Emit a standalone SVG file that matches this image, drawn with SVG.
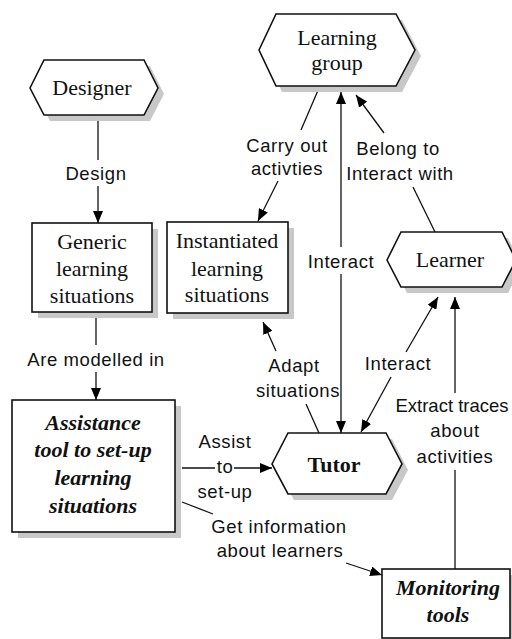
<svg xmlns="http://www.w3.org/2000/svg" width="512" height="639" viewBox="0 0 512 639">
<defs>
<marker id="ah" viewBox="0 0 12 10" refX="12" refY="5" markerWidth="12" markerHeight="10" markerUnits="userSpaceOnUse" orient="auto-start-reverse">
<path d="M0,0 L12,5 L0,10 z" fill="#000"/>
</marker>
<style>
.shape{fill:#fff;stroke:#111;stroke-width:1.6}
.shadow{fill:#c8c8c8;stroke:none}
.nt{font-family:"Liberation Serif",serif;font-size:22px;fill:#111;text-anchor:middle}
.bi{font-weight:bold;font-style:italic}
.b{font-weight:bold}
.lb{font-family:"Liberation Sans",Arial,sans-serif;font-size:18.5px;letter-spacing:0.6px;fill:#111;text-anchor:middle}
.cn{fill:none;stroke:#111;stroke-width:1.3}
.ae{marker-end:url(#ah)}
.as{marker-start:url(#ah)}
</style>
</defs>
<rect width="512" height="639" fill="#fff"/>

<g id="connectors">
<path class="cn" d="M98,117 V160"/>
<path class="cn ae" d="M98,186 V223"/>
<path class="cn" d="M96,313 V345"/>
<path class="cn ae" d="M96,372 V400"/>
<path class="cn" d="M319,88 L301,130"/>
<path class="cn ae" d="M278,181 L258,221"/>
<path class="cn as" d="M341,92 V247"/>
<path class="cn ae" d="M341,274 V433"/>
<path class="cn" d="M435,232 L413,187"/>
<path class="cn ae" d="M384,133 L356,95"/>
<path class="cn" d="M319,433 L306,404"/>
<path class="cn ae" d="M276,351 L263,322"/>
<path class="cn ae" d="M406,352 L438,297"/>
<path class="cn ae" d="M391,377 L361,432"/>
<path class="cn" d="M455,569 V470"/>
<path class="cn ae" d="M455,393 V297"/>
<path class="cn" d="M182,468 H215"/>
<path class="cn ae" d="M234,468 H272"/>
<path class="cn" d="M182,502 L213,514"/>
<path class="cn ae" d="M346,563 L382,575"/>
<text class="lb" x="96" y="180">Design</text>
<text class="lb" x="96" y="366">Are modelled in</text>
<text class="lb" x="287" y="152">Carry out</text>
<text class="lb" x="287" y="175">activties</text>
<text class="lb" x="398" y="155">Belong to</text>
<text class="lb" x="400" y="180">Interact with</text>
<text class="lb" x="341" y="268">Interact</text>
<text class="lb" x="294" y="372">Adapt</text>
<text class="lb" x="298" y="397">situations</text>
<text class="lb" x="398" y="370">Interact</text>
<text class="lb" x="452" y="412" style="letter-spacing:0px">Extract traces</text>
<text class="lb" x="455" y="437">about</text>
<text class="lb" x="455" y="463">activities</text>
<text class="lb" x="225" y="448">Assist</text>
<text class="lb" x="225" y="473">to</text>
<text class="lb" x="225" y="498">set-up</text>
<text class="lb" x="279" y="533">Get information</text>
<text class="lb" x="280" y="557">about learners</text>
</g>

<g id="designer">
<polygon class="shadow" points="36,94 50,66 150,66 164,94 150,121 50,121"/>
<polygon class="shape" points="30,88 44,60 144,60 158,88 144,115 44,115"/>
<text class="nt" x="92" y="95">Designer</text>
</g>

<g id="learning-group">
<polygon class="shadow" points="265,56 282,20 402,20 421,56 402,92 282,92"/>
<polygon class="shape" points="259,50 276,14 396,14 415,50 396,86 276,86"/>
<text class="nt" x="337" y="45">Learning</text>
<text class="nt" x="337" y="70">group</text>
</g>

<g id="generic">
<rect class="shadow" x="38" y="229" width="120" height="89"/>
<rect class="shape" x="32" y="223" width="120" height="89"/>
<text class="nt" x="92" y="249">Generic</text>
<text class="nt" x="92" y="276">learning</text>
<text class="nt" x="92" y="303">situations</text>
</g>

<g id="instantiated">
<rect class="shadow" x="173" y="228" width="121" height="91"/>
<rect class="shape" x="167" y="222" width="121" height="91"/>
<text class="nt" x="227" y="248">Instantiated</text>
<text class="nt" x="227" y="276">learning</text>
<text class="nt" x="227" y="302">situations</text>
</g>

<g id="learner">
<polygon class="shadow" points="393,266 407,238 508,238 522,266 508,293 407,293"/>
<polygon class="shape" points="387,260 401,232 502,232 516,260 502,287 401,287"/>
<text class="nt" x="450" y="267">Learner</text>
</g>

<g id="assistance">
<rect class="shadow" x="18" y="406" width="163" height="132"/>
<rect class="shape" x="12" y="400" width="163" height="132"/>
<text class="nt bi" x="93" y="430">Assistance</text>
<text class="nt bi" x="93" y="457">tool to set-up</text>
<text class="nt bi" x="93" y="485">learning</text>
<text class="nt bi" x="93" y="513">situations</text>
</g>

<g id="tutor">
<polygon class="shadow" points="278,470 294,439 392,439 408,470 392,500 294,500"/>
<polygon class="shape" points="272,464 288,433 386,433 402,464 386,494 288,494"/>
<text class="nt b" x="334" y="472">Tutor</text>
</g>

<g id="monitoring">
<rect class="shadow" x="388" y="575" width="128" height="69"/>
<rect class="shape" x="382" y="569" width="128" height="69"/>
<text class="nt bi" x="448" y="595">Monitoring</text>
<text class="nt bi" x="448" y="622">tools</text>
</g>
</svg>
